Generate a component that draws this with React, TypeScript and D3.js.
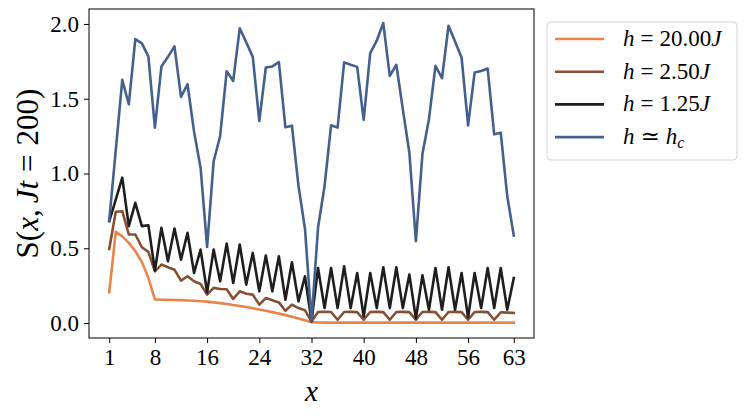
import React, { useEffect, useRef } from "react";
import * as d3 from "d3";

// lattice sites 1..63
const sites = d3.range(1, 64);

const xTicks = [1, 8, 16, 24, 32, 40, 48, 56, 63];
const yTicks = [0, 0.5, 1.0, 1.5, 2.0];

// S(x, Jt=200)
const h2000 = [
  0.205, 0.61, 0.58, 0.536, 0.48, 0.409, 0.302, 0.158, 0.156, 0.155, 0.154, 0.153, 0.151, 0.149, 0.146, 0.143,
  0.138, 0.133, 0.127, 0.121, 0.114, 0.107, 0.099, 0.091, 0.082, 0.073, 0.063, 0.053, 0.042, 0.031, 0.019, 0.006,
  0.004, 0.003, 0.003, 0.003, 0.003, 0.003, 0.003, 0.003, 0.003, 0.003, 0.003, 0.003, 0.003, 0.003, 0.003, 0.003,
  0.003, 0.003, 0.003, 0.003, 0.003, 0.003, 0.003, 0.003, 0.003, 0.003, 0.003, 0.003, 0.003, 0.003, 0.003,
];
const h250 = [
  0.496, 0.744, 0.748, 0.592, 0.592, 0.507, 0.476, 0.346, 0.391, 0.373, 0.357, 0.284, 0.313, 0.279, 0.261, 0.19,
  0.235, 0.228, 0.226, 0.161, 0.212, 0.196, 0.19, 0.123, 0.167, 0.152, 0.138, 0.082, 0.123, 0.1, 0.085, 0.011,
  0.074, 0.076, 0.074, 0.022, 0.074, 0.075, 0.073, 0.022, 0.074, 0.075, 0.073, 0.022, 0.074, 0.075, 0.073, 0.022,
  0.074, 0.075, 0.073, 0.022, 0.074, 0.075, 0.073, 0.022, 0.074, 0.075, 0.073, 0.022, 0.072, 0.07, 0.068,
];
const h125 = [
  0.681, 0.826, 0.972, 0.648, 0.804, 0.648, 0.654, 0.351, 0.637, 0.413, 0.632, 0.424, 0.603, 0.335, 0.491, 0.205,
  0.491, 0.279, 0.531, 0.268, 0.525, 0.257, 0.469, 0.212, 0.451, 0.212, 0.446, 0.156, 0.406, 0.145, 0.313, 0.011,
  0.368, 0.1, 0.368, 0.1, 0.379, 0.1, 0.335, 0.044, 0.335, 0.1, 0.373, 0.1, 0.373, 0.1, 0.324, 0.03,
  0.319, 0.089, 0.368, 0.089, 0.373, 0.089, 0.335, 0.038, 0.335, 0.1, 0.368, 0.1, 0.368, 0.089, 0.301,
];
const hCrit = [
  0.686, 1.155, 1.626, 1.463, 1.899, 1.87, 1.783, 1.307, 1.716, 1.78, 1.85, 1.512, 1.597, 1.28, 1.039, 0.509,
  1.08, 1.251, 1.684, 1.619, 1.971, 1.877, 1.78, 1.351, 1.709, 1.716, 1.745, 1.309, 1.32, 0.92, 0.631, 0.015,
  0.637, 0.916, 1.322, 1.307, 1.743, 1.727, 1.713, 1.358, 1.805, 1.888, 2.006, 1.653, 1.727, 1.43, 1.139, 0.547,
  1.128, 1.363, 1.72, 1.637, 1.988, 1.882, 1.776, 1.322, 1.676, 1.686, 1.702, 1.262, 1.273, 0.849, 0.585,
];

const seriesNames = ["h20", "h250", "h125", "hc"];
const seriesColors = ["#e8844a", "#874f33", "#1f1d1d", "#44618e"];
const seriesValues = [h2000, h250, h125, hCrit];
const legendRel = ["=", "=", "=", "\u2243"];
const legendRhs = ["20.00", "2.50", "1.25", ""];
const legendUnit = ["J", "J", "J", "h"];

const W = 747;
const H = 416;
const FONT = "'Liberation Serif', 'DejaVu Serif', serif";

export default function App() {
  const ref = useRef<SVGSVGElement>(null);

  useEffect(() => {
    const svg = d3.select(ref.current);
    svg.selectAll("*").remove();

    const left = 89, right = 534, top = 9, bottom = 338;

    const x = d3.scaleLinear().domain([-2.1, 66.1]).range([left, right]);
    const y = d3.scaleLinear().domain([-0.1, 2.1]).range([bottom, top]);

    // lines
    const line = d3
      .line<number>()
      .x((_, i) => x(sites[i]))
      .y((d) => y(d));

    svg
      .selectAll("path.series")
      .data(seriesValues)
      .enter()
      .append("path")
      .attr("class", "series")
      .attr("d", (d) => line(d))
      .attr("fill", "none")
      .attr("stroke", (_, i) => seriesColors[i])
      .attr("stroke-width", 2.6)
      .attr("stroke-linejoin", "round")
      .attr("stroke-linecap", "square");

    // frame
    svg
      .append("rect")
      .attr("x", left)
      .attr("y", top)
      .attr("width", right - left)
      .attr("height", bottom - top)
      .attr("fill", "none")
      .attr("stroke", "#000")
      .attr("stroke-width", 1);

    // axes
    const xAxis = svg
      .append("g")
      .attr("transform", `translate(0,${bottom})`)
      .call(d3.axisBottom(x).tickValues(xTicks).tickFormat(d3.format("d")).tickSizeOuter(0).tickSize(5).tickPadding(6));
    const yAxis = svg
      .append("g")
      .attr("transform", `translate(${left},0)`)
      .call(d3.axisLeft(y).tickValues(yTicks).tickFormat(d3.format(".1f")).tickSizeOuter(0).tickSize(5).tickPadding(5));

    [xAxis, yAxis].forEach((g) => {
      g.select(".domain").remove();
      g.selectAll(".tick line").attr("stroke", "#000").attr("stroke-width", 1);
      g.selectAll(".tick text")
        .attr("fill", "#000")
        .style("font-family", FONT)
        .style("font-size", "23px");
    });

    // x label
    svg
      .append("text")
      .attr("x", (left + right) / 2)
      .attr("y", 401)
      .attr("text-anchor", "middle")
      .style("font-family", FONT)
      .style("font-size", "29px")
      .style("font-style", "italic")
      .text("x");

    // y label, math-style spacing done with dx
    const yl = svg
      .append("text")
      .attr("transform", `translate(38,${(top + bottom) / 2}) rotate(-90)`)
      .attr("text-anchor", "middle")
      .style("font-family", FONT)
      .style("font-size", "31px");
    yl.append("tspan").text("S(");
    yl.append("tspan").style("font-style", "italic").text("x");
    yl.append("tspan").text(",");
    yl.append("tspan").attr("dx", 6).style("font-style", "italic").text("Jt");
    yl.append("tspan").attr("dx", 9).text("=");
    yl.append("tspan").attr("dx", 9).text("200)");

    // legend
    const lg = svg.append("g");
    lg.append("rect")
      .attr("x", 547)
      .attr("y", 22)
      .attr("width", 190)
      .attr("height", 138)
      .attr("rx", 4)
      .attr("fill", "#fff")
      .attr("fill-opacity", 0.8)
      .attr("stroke", "#d5d5d5")
      .attr("stroke-width", 1);

    seriesNames.forEach((name, i) => {
      const yy = 39 + i * 32.7;
      lg.append("line")
        .attr("x1", 555)
        .attr("x2", 604)
        .attr("y1", yy)
        .attr("y2", yy)
        .attr("stroke", seriesColors[i])
        .attr("stroke-width", 2.6);
      const t = lg
        .append("text")
        .attr("x", 623)
        .attr("y", yy + 7)
        .style("font-family", FONT)
        .style("font-size", "23px");
      t.append("tspan").style("font-style", "italic").text("h");
      t.append("tspan").attr("dx", 6).text(legendRel[i]);
      if (legendRhs[i]) t.append("tspan").attr("dx", 6).text(legendRhs[i]);
      t.append("tspan")
        .attr("dx", legendRhs[i] ? 0 : 6)
        .style("font-style", "italic")
        .text(legendUnit[i]);
      if (name === "hc") {
        t.append("tspan").style("font-style", "italic").style("font-size", "16px").attr("dy", 4).text("c");
      }
    });
  }, []);

  return (
    <svg
      ref={ref}
      width={W}
      height={H}
      style={{ position: "absolute", left: 0, top: 0, background: "#fff" }}
    />
  );
}
